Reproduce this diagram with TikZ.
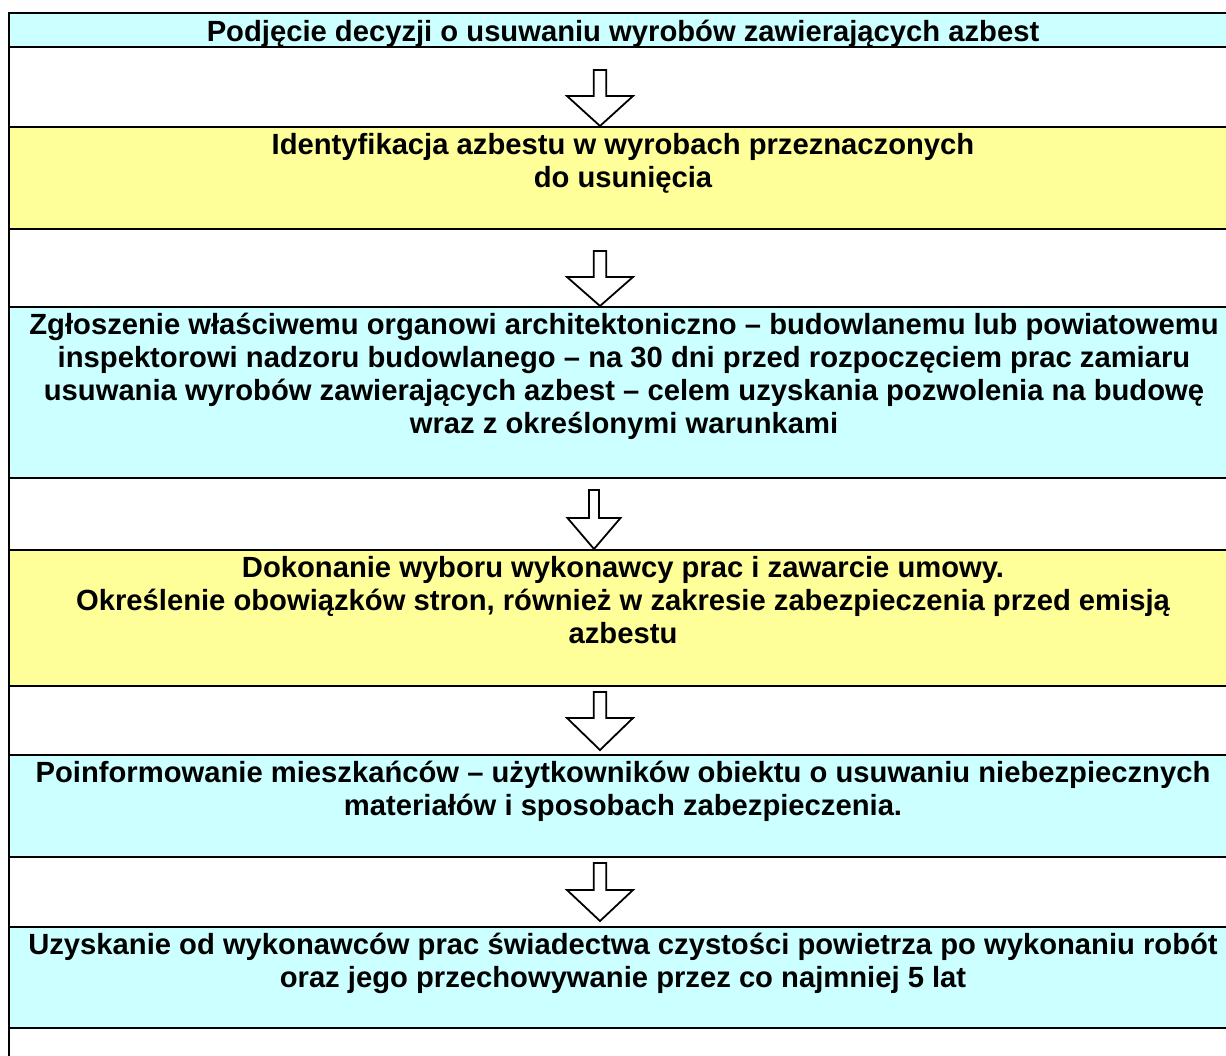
\documentclass[tikz,border=0pt]{standalone}
\usepackage{fontspec}
\setmainfont{Liberation Sans}
\definecolor{rowcyan}{HTML}{CCFFFF}
\definecolor{rowyellow}{HTML}{FFFF99}
\newcommand\blockarrow[7]{%
  % #1 name, #2 cx, #3 top, #4 shaft half, #5 head half, #6 head y, #7 tip y
  \coordinate (#1) at (#2,#7);
  \draw[arrowshape] (#2-#4,#3) -- (#2+#4,#3) -- (#2+#4,#6) -- (#2+#5,#6) -- (#1)
     -- (#2-#5,#6) -- (#2-#4,#6) -- cycle;}
\begin{document}
\begin{tikzpicture}[x=1pt,y=-1pt,
  rowtext/.style={anchor=north,inner sep=0pt,align=center,
    font=\fontsize{29.2}{33}\selectfont\bfseries},
  rule/.style={line width=1.8pt},
  arrowshape/.style={draw=black,fill=white,line width=1.8pt,line join=miter}]
\useasboundingbox (0,0) rectangle (1226,1056);
\clip (0,0) rectangle (1226,1056);
\fill[white] (0,0) rectangle (1226,1056);
% coloured rows
\fill[rowcyan]   (9,13)  rectangle (1240,47);
\fill[rowyellow] (9,127) rectangle (1240,229);
\fill[rowcyan]   (9,307) rectangle (1240,478);
\fill[rowyellow] (9,550) rectangle (1240,686);
\fill[rowcyan]   (9,755) rectangle (1240,857);
\fill[rowcyan]   (9,927) rectangle (1240,1028);
% rules
\foreach \yy in {13,47,127,229,307,478,550,686,755,857,927,1028}
  \draw[rule] (9,\yy) -- (1240,\yy);
\draw[rule] (9,12.1) -- (9,1070);
% texts
\node[rowtext] (t1) at (623,13) {\rule{0pt}{28pt}Podjęcie decyzji o usuwaniu wyrobów zawierających azbest};
\node[rowtext] (t2) at (623,127) {\rule{0pt}{27.5pt}Identyfikacja azbestu w wyrobach przeznaczonych\\ do usunięcia};
\node[rowtext] (t3) at (624,307) {\rule{0pt}{27.5pt}Zgłoszenie właściwemu organowi architektoniczno – budowlanemu lub powiatowemu\\ inspektorowi nadzoru budowlanego – na 30 dni przed rozpoczęciem prac zamiaru\\ usuwania wyrobów zawierających azbest – celem uzyskania pozwolenia na budowę\\ wraz z określonymi warunkami};
\node[rowtext] (t4) at (623,550) {\rule{0pt}{27.5pt}Dokonanie wyboru wykonawcy prac i zawarcie umowy.\\ Określenie obowiązków stron, również w zakresie zabezpieczenia przed emisją\\ azbestu};
\node[rowtext] (t5) at (623,755) {\rule{0pt}{27.5pt}Poinformowanie mieszkańców – użytkowników obiektu o usuwaniu niebezpiecznych\\ materiałów i sposobach zabezpieczenia.};
\node[rowtext] (t6) at (623,927) {\rule{0pt}{27.5pt}Uzyskanie od wykonawców prac świadectwa czystości powietrza po wykonaniu robót\\ oraz jego przechowywanie przez co najmniej 5 lat};
% hollow arrows
\blockarrow{a1}{600}{70}{6.25}{33}{96}{126}
\blockarrow{a2}{600}{251}{6.25}{33}{277}{306}
\blockarrow{a3}{594}{490}{5}{26.5}{518}{549}
\blockarrow{a4}{600}{692}{6.25}{33}{718}{750}
\blockarrow{a5}{600}{863}{6.25}{33}{890}{921}
\end{tikzpicture}
\end{document}
